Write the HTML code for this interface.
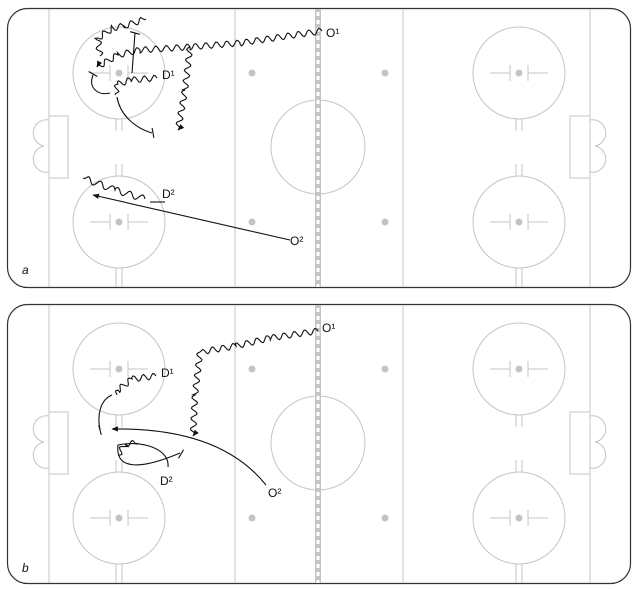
<!DOCTYPE html>
<html><head><meta charset="utf-8"><style>
html,body{margin:0;padding:0;background:#fff;}
svg{display:block;}
text{font-family:"Liberation Sans",sans-serif;font-size:12px;fill:#111;}
</style></head><body>
<svg id="s" width="638" height="589" viewBox="0 0 638 589" xmlns="http://www.w3.org/2000/svg">
<defs>
<marker id="ar" viewBox="0 0 10 10" refX="9" refY="5" markerWidth="6" markerHeight="6" orient="auto"><path d="M0,1 L10,5 L0,9 z" fill="#111"/></marker>
<g id="rink">
  <rect x="7.5" y="8.5" width="623" height="279" rx="20" fill="none" stroke="#333" stroke-width="1.2"/>
  <g stroke="#c4c4c4" stroke-width="1" fill="none">
    <line x1="49" y1="9" x2="49" y2="287"/><line x1="590" y1="9" x2="590" y2="287"/>
    <line x1="235" y1="9" x2="235" y2="287"/><line x1="403" y1="9" x2="403" y2="287"/>
    <circle cx="119" cy="73" r="46"/><circle cx="119" cy="222" r="46"/>
    <circle cx="519" cy="73" r="46"/><circle cx="519" cy="222" r="46"/>
    <circle cx="318" cy="147" r="47"/>
    <rect x="49" y="116" width="19" height="62"/><rect x="570" y="116" width="20" height="62"/>
    <path d="M49,120 A13,13 0 1 0 44,146 A13,13 0 1 0 49,172"/>
    <path d="M590,120 A13,13 0 1 1 595,146 A13,13 0 1 1 590,172"/>
    <g id="hm">
      <line x1="90" y1="73" x2="110" y2="73"/><line x1="128" y1="73" x2="148" y2="73"/>
      <line x1="110" y1="65" x2="110" y2="81"/><line x1="128" y1="65" x2="128" y2="81"/>
    </g>
    <use href="#hm" y="149"/><use href="#hm" x="400"/><use href="#hm" x="400" y="149"/>
    <line x1="116" y1="119" x2="116" y2="131"/><line x1="122" y1="119" x2="122" y2="131"/>
    <line x1="116" y1="164" x2="116" y2="176"/><line x1="122" y1="164" x2="122" y2="176"/>
    <line x1="116" y1="268" x2="116" y2="287"/><line x1="122" y1="268" x2="122" y2="287"/>
    <line x1="516" y1="119" x2="516" y2="131"/><line x1="522" y1="119" x2="522" y2="131"/>
    <line x1="516" y1="164" x2="516" y2="176"/><line x1="522" y1="164" x2="522" y2="176"/>
    <line x1="516" y1="268" x2="516" y2="287"/><line x1="522" y1="268" x2="522" y2="287"/>
  </g>
  <g fill="#c4c4c4">
    <circle cx="119" cy="73" r="3.5"/><circle cx="119" cy="222" r="3.5"/>
    <circle cx="519" cy="73" r="3.5"/><circle cx="519" cy="222" r="3.5"/>
    <circle cx="252" cy="73" r="3.5"/><circle cx="252" cy="222" r="3.5"/>
    <circle cx="385" cy="73" r="3.5"/><circle cx="385" cy="222" r="3.5"/>
  </g>
  <line x1="318" y1="9" x2="318" y2="287" stroke="#c4c4c4" stroke-width="6"/>
  <line x1="318" y1="12" x2="318" y2="287" stroke="#fff" stroke-width="3" stroke-dasharray="4 4"/>
</g>
</defs>
<use href="#rink"/>
<use href="#rink" y="296"/>
<g id="paths" fill="none" stroke="#111" stroke-width="1.1"></g>
<text x="22" y="274" font-style="italic">a</text>
<text x="22" y="572" font-style="italic">b</text>
<text x="326" y="37">O¹</text><text x="162" y="79">D¹</text>
<text x="162" y="198">D²</text><text x="290" y="245">O²</text>
<text x="322" y="332">O¹</text><text x="161" y="377">D¹</text>
<text x="160" y="485">D²</text><text x="268" y="497">O²</text>
</svg>
<script>
const g=document.getElementById('paths');
function add(d,arrow){const p=document.createElementNS('http://www.w3.org/2000/svg','path');p.setAttribute('d',d);if(arrow)p.setAttribute('marker-end','url(#ar)');g.appendChild(p);return p;}
function wavy(pts,arrow,amp=3,wl=10.5){
  let d='';let first=true;
  for(let i=0;i<pts.length-1;i++){
    const [x1,y1]=pts[i],[x2,y2]=pts[i+1];const L=Math.hypot(x2-x1,y2-y1);
    const ux=(x2-x1)/L,uy=(y2-y1)/L,nx=-uy,ny=ux;const n=Math.max(4,Math.round(L/1.5));
    for(let k=0;k<=n;k++){const t=k/n*L;const s=amp*Math.sin(2*Math.PI*t/wl)*(i==pts.length-2?Math.min(1,(L-t)/4):1);
      const x=x1+ux*t+nx*s,y=y1+uy*t+ny*s;d+=(first?'M':'L')+x.toFixed(1)+','+y.toFixed(1)+' ';first=false;}
  }
  add(d,arrow);
}
function tbar(x,y,ang){const a=ang*Math.PI/180,dx=5*Math.cos(a),dy=5*Math.sin(a);add(`M${x-dx},${y-dy} L${x+dx},${y+dy}`);}
// panel a
wavy([[322,31],[240,43],[190,47],[140,50],[118,55],[97,67]],true);
wavy([[190,47],[185,90],[178,130]],true);
wavy([[100,56],[98,38],[113,28],[124,26],[146,19]],false);
add('M132,73 L135,33');tbar(135,33,15);
wavy([[157,78],[131,80],[118,84],[115,95]],false,3,10);
add('M110,93 C98,96 88,88 93,75');tbar(93,74,30);
add('M117,97 C120,115 135,128 152,133');tbar(153,133,80);
add('M150,202 L165,202');
wavy([[145,199],[115,190],[83,178]],false,3.2,13);
add('M290,240 L93,195',true);
// panel b
wavy([[318,331],[270,338],[236,346],[200,352]],false);
wavy([[200,352],[195,395],[193,436]],true);
wavy([[156,376],[132,379],[118,390],[117,395]],false,3,10);
add('M112,395 C100,400 97,415 100,430');tbar(100,430,75);
add('M266,485 C230,440 170,428 112,429',true);
add('M168,467 C170,448 140,440 118,445 C115,470 140,470 180,453');tbar(181,454,-60);
wavy([[118,455],[125,444],[138,443]],false,3,10);
</script>
</body></html>
